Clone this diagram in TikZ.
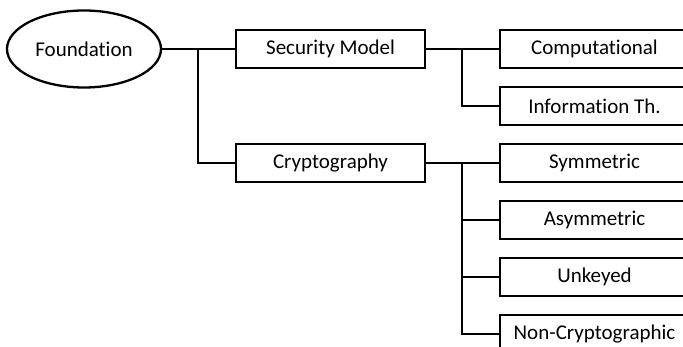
\documentclass[tikz,border=0pt]{standalone}
\usepackage{fontspec}
\setmainfont{Carlito}[RawFeature={-liga}]
\usetikzlibrary{shapes.geometric}
\begin{document}
\begin{tikzpicture}[x=1pt,y=-1pt,
  every node/.style={font=\fontsize{21}{24}\selectfont, inner sep=0pt},
  root/.style={ellipse, draw, line width=2.3pt, minimum width=154pt, minimum height=77pt},
  leaf/.style={rectangle, draw, line width=2.3pt, minimum width=189pt, minimum height=38pt},
  link/.style={line width=2.3pt}]
\clip (0,0) rectangle (683,347);
\fill[white] (0,0) rectangle (683,347);

% root and first level
\node[root] (found) at (84,49) {Foundation};
\node[leaf] (sec) at (330.5,49) {Security Model};
\node[leaf] (cry) at (330.5,163) {Cryptography};

% second level
\node[leaf] (comp) at (594.5,49)  {Computational};
\node[leaf] (info) at (594.5,106) {Information Th.};
\node[leaf] (sym)  at (594.5,163) {Symmetric};
\node[leaf] (asym) at (594.5,220) {Asymmetric};
\node[leaf] (unk)  at (594.5,277) {Unkeyed};
\node[leaf] (nonc) at (594.5,334) {Non-Cryptographic};

% branch points
\coordinate (j1) at (198,49);
\coordinate (j2) at (462,49);
\coordinate (j3) at (462,163);

\draw[link] (found.east) -- (sec.west);
\draw[link] (j1) |- (cry.west);
\draw[link] (sec.east) -- (comp.west);
\draw[link] (j2) |- (info.west);
\draw[link] (cry.east) -- (sym.west);
\draw[link] (j3) |- (asym.west);
\draw[link] (j3) |- (unk.west);
\draw[link] (j3) |- (nonc.west);
\end{tikzpicture}
\end{document}
